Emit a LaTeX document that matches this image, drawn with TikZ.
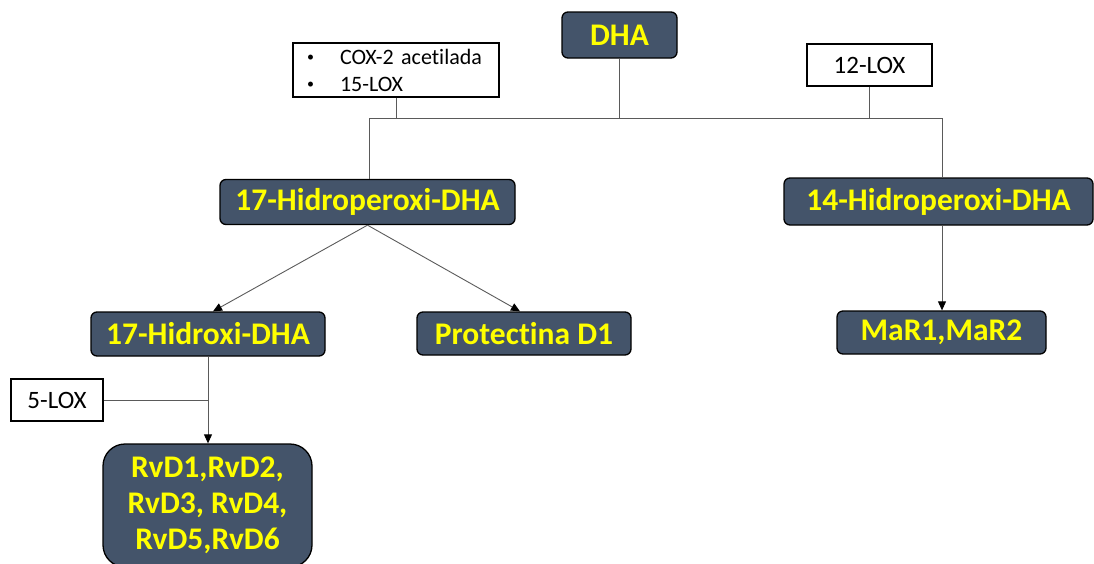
\documentclass[tikz,border=0pt]{standalone}
\usepackage{fontspec}
\setmainfont[Ligatures=NoCommon]{Carlito}
\usetikzlibrary{arrows.meta}
\definecolor{slate}{HTML}{44546A}
\definecolor{wiregray}{HTML}{5A5A5A}
\definecolor{labelyellow}{HTML}{FFFF00}
\newcommand\listdot{\makebox[33pt][l]{\raisebox{2.5pt}{\fontsize{14}{14}\selectfont\textbullet}}}
\begin{document}
\begin{tikzpicture}[x=1pt,y=-1pt,
  metab/.style={draw=black, line width=1.3pt, fill=slate, rounded corners=6pt,
    text=labelyellow, font=\fontsize{31.5}{36}\selectfont\bfseries,
    inner sep=0pt, align=center},
  enzyme/.style={draw=black, line width=1.2pt, fill=white, inner sep=0pt,
    font=\fontsize{25}{29}\selectfont},
  wire/.style={draw=wiregray, line width=0.9pt},
  flow/.style={wire, -{Triangle[length=9pt,width=8pt,color=black]}}
]
\clip (0,0) rectangle (1094,563);
\useasboundingbox (0,0) rectangle (1094,563);

% metabolites
\node[metab, minimum width=115pt, minimum height=46pt] (dha) at (619.5,35) {DHA};
\node[metab, minimum width=295pt, minimum height=45pt] (hp17) at (367.5,202) {17-Hidroperoxi-DHA};
\node[metab, minimum width=309pt, minimum height=47pt] (hp14) at (938.5,201.5) {14-Hidroperoxi-DHA};
\node[metab, minimum width=234pt, minimum height=44pt] (hx17) at (208,334) {17-Hidroxi-DHA};
\node[metab, minimum width=214pt, minimum height=43pt] (pd1) at (524,333.5) {Protectina D1};
\node[metab, minimum width=209pt, minimum height=43pt] (mar) at (941.5,332.5) {MaR1,MaR2};
\node[metab, rounded corners=22pt, minimum width=209pt, minimum height=123pt] (rvd) at (207.5,505.5)
  {RvD1,RvD2,\\RvD3, RvD4,\\RvD5,RvD6};

% enzymes
\node[enzyme, font=\fontsize{22}{27}\selectfont, minimum width=206pt, minimum height=54pt,
  text width=178pt, align=left] (cox) at (396,70)
  {\listdot COX-2 acetilada\\\listdot 15-LOX};
\node[enzyme, minimum width=125pt, minimum height=42pt] (lox12) at (869.5,65) {12-LOX};
\node[enzyme, minimum width=92pt, minimum height=42pt] (lox5) at (57,400) {5-LOX};

% branching from DHA
\coordinate (jl) at (369,118);
\coordinate (jr) at (942,118);
\draw[wire] (jl) -- (jr);
\draw[wire] (dha.south) -- (dha.south |- jl);
\draw[wire] (cox.south) -- (cox.south |- jl);
\draw[wire] (lox12.south) -- (lox12.south |- jl);
\draw[wire] (jl) -- (jl |- hp17.north);
\draw[wire] (jr) -- (jr |- hp14.north);

% downstream products
\draw[flow] (hp17.south) -- ([xshift=5pt]hx17.north);
\draw[flow] (hp17.south) -- ([xshift=-4pt]pd1.north);
\draw[flow] (hp14.south -| jr) -- (mar.north -| jr);
\draw[flow] (hx17.south) -- (hx17.south |- rvd.north);
\draw[wire] (lox5.east) -- (lox5.east -| hx17.south);
\end{tikzpicture}
\end{document}
